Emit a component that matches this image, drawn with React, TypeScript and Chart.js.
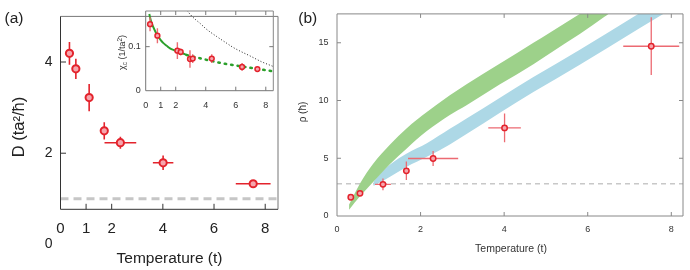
import React, { useEffect, useRef } from "react";
import { Chart, registerables } from "chart.js";

Chart.register(...registerables);

const FONT = "'Liberation Sans', Arial, Helvetica, sans-serif";

// ---------- Panel (a): diffusion constant D vs temperature ----------
const tempA = [0.35, 0.6, 1.12, 1.71, 2.34, 4.01, 7.53];
const diffA = [4.19, 3.85, 3.22, 2.49, 2.23, 1.79, 1.33];
const diffErrA = [0.25, 0.22, 0.3, 0.19, 0.13, 0.16, 0.04];
const tempErrA = [0, 0, 0, 0, 0.62, 0.4, 0.68];
const refTempA = [0, 8.5];
const refDiffA = [1, 1];
const xTicksA = [0, 1, 2, 4, 6, 8];
const yTicksA = [2, 4];
const extraYTickA = 0;

// ---------- Inset: chi_c vs temperature ----------
const tempIn = [0.29, 0.78, 2.11, 2.33, 2.95, 3.13, 4.4, 6.42, 7.44];
const chiIn = [0.151, 0.125, 0.091, 0.088, 0.072, 0.073, 0.073, 0.054, 0.049];
const chiErrIn = [0.016, 0.017, 0.019, 0.008, 0.02, 0.01, 0.01, 0.009, 0.006];
const fitSolidT = [0.24, 0.35, 0.5, 0.65, 0.84, 1.0, 1.18, 1.4, 1.62, 1.9, 2.18, 2.45, 2.73];
const fitSolidChi = [0.174, 0.158, 0.145, 0.134, 0.123, 0.115, 0.108, 0.102, 0.096, 0.092, 0.089, 0.085, 0.081];
const fitDotT = [2.73, 3.2, 3.62, 4.2, 4.73, 5.3, 5.84, 6.4, 6.95, 7.7, 8.5];
const fitDotChi = [0.081, 0.077, 0.0736, 0.069, 0.065, 0.061, 0.058, 0.055, 0.052, 0.048, 0.044];
const bareT = [2.75, 3.0, 3.3, 3.62, 4.0, 4.35, 4.73, 5.3, 5.84, 6.4, 6.95, 7.7, 8.5];
const bareChi = [0.182, 0.172, 0.162, 0.153, 0.141, 0.132, 0.123, 0.11, 0.098, 0.088, 0.079, 0.066, 0.055];
const xTicksIn = [0, 1, 2, 4, 6, 8];
const yTicksIn = [0, 0.1];

// ---------- Panel (b): rho vs temperature ----------
const tempB = [0.33, 0.55, 1.1, 1.66, 2.3, 4.01, 7.52];
const rhoB = [1.63, 1.96, 2.74, 3.91, 4.98, 7.63, 14.7];
const tempErrB = [0, 0, 0.19, 0, 0.6, 0.39, 0.67];
const rhoErrB = [0, 0, 0.5, 0.8, 0.65, 1.25, 2.5];
const greenT = [0.29, 0.55, 0.87, 1.27, 1.67, 2.15, 2.7, 3.1, 3.9, 4.7, 5.1, 5.81, 6.4, 6.7];
const greenUpper = [1.0, 2.82, 4.55, 6.2, 7.6, 9.0, 10.45, 11.4, 13.2, 15.0, 15.9, 17.5, 18.9, 19.6];
const greenLower = [0.55, 1.7, 2.96, 4.5, 5.85, 7.35, 8.75, 9.6, 11.4, 13.15, 14.1, 15.75, 17.25, 18.0];
const blueT = [0.87, 1.0, 1.27, 1.67, 2.15, 2.7, 3.1, 3.9, 4.7, 5.81, 7.21, 7.81, 8.4];
const blueUpper = [2.95, 3.55, 4.45, 5.41, 6.3, 7.55, 8.44, 10.25, 12.03, 14.4, 17.5, 18.8, 20.1];
const blueLower = [2.6, 2.85, 3.39, 4.26, 5.12, 6.2, 7.1, 8.95, 10.73, 13.1, 16.2, 17.5, 18.8];
const refTempB = [0, 8.28];
const refRhoB = [2.79, 2.79];
const xTicksB = [0, 2, 4, 6, 8];
const yTicksB = [0, 5, 10, 15];

const pts = (xs: number[], ys: number[]) => xs.map((x, i) => ({ x, y: ys[i] }));
const fixedTicks = (vals: number[]) => (s: any) => {
  s.ticks = vals.map((v) => ({ value: v }));
};

const errorBars = (
  index: number,
  xs: number[],
  ys: number[],
  xe: number[],
  ye: number[],
  color: string,
  width: number
) => ({
  id: "errorBars",
  beforeDatasetDraw(chart: any, args: any) {
    if (args.index !== index) return;
    const { ctx } = chart;
    const sx = chart.scales.x;
    const sy = chart.scales.y;
    ctx.save();
    ctx.strokeStyle = color;
    ctx.lineWidth = width;
    ctx.beginPath();
    xs.forEach((x, i) => {
      const px = sx.getPixelForValue(x);
      const py = sy.getPixelForValue(ys[i]);
      if (ye[i] > 0) {
        ctx.moveTo(px, sy.getPixelForValue(ys[i] - ye[i]));
        ctx.lineTo(px, sy.getPixelForValue(ys[i] + ye[i]));
      }
      if (xe[i] > 0) {
        ctx.moveTo(sx.getPixelForValue(x - xe[i]), py);
        ctx.lineTo(sx.getPixelForValue(x + xe[i]), py);
      }
    });
    ctx.stroke();
    ctx.restore();
  },
});

const framePlugin = (o: {
  xTicks: number[];
  yTicks: number[];
  mirror: boolean;
  len: number;
  color: string;
  axisColor: string;
}) => ({
  id: "frame",
  afterDatasetsDraw(chart: any) {
    const { ctx, chartArea: a } = chart;
    const sx = chart.scales.x;
    const sy = chart.scales.y;
    ctx.save();
    ctx.lineWidth = 1;
    ctx.strokeStyle = o.color;
    ctx.beginPath();
    ctx.moveTo(a.left, a.top);
    ctx.lineTo(a.right, a.top);
    ctx.lineTo(a.right, a.bottom);
    ctx.stroke();
    ctx.strokeStyle = o.axisColor;
    ctx.beginPath();
    ctx.moveTo(a.left, a.top);
    ctx.lineTo(a.left, a.bottom);
    ctx.lineTo(a.right, a.bottom);
    ctx.stroke();
    ctx.beginPath();
    o.xTicks.forEach((v) => {
      const p = sx.getPixelForValue(v);
      if (p <= a.left + 1 || p >= a.right - 1) return;
      ctx.moveTo(p, a.bottom);
      ctx.lineTo(p, a.bottom - o.len);
      if (o.mirror) {
        ctx.moveTo(p, a.top);
        ctx.lineTo(p, a.top + o.len);
      }
    });
    o.yTicks.forEach((v) => {
      const p = sy.getPixelForValue(v);
      if (p <= a.top + 1 || p >= a.bottom - 1) return;
      ctx.moveTo(a.left, p);
      ctx.lineTo(a.left + o.len, p);
      if (o.mirror) {
        ctx.moveTo(a.right, p);
        ctx.lineTo(a.right - o.len, p);
      }
    });
    ctx.stroke();
    ctx.restore();
  },
});

type Part = { t: string; size: number; dy?: number };
type Label = { parts: Part[]; x: number; y: number; rotate?: boolean; color?: string };

const textPlugin = (items: Label[]) => ({
  id: "texts",
  afterDraw(chart: any) {
    const ctx = chart.ctx;
    items.forEach((it) => {
      ctx.save();
      ctx.translate(it.x, it.y);
      if (it.rotate) ctx.rotate(-Math.PI / 2);
      ctx.fillStyle = it.color || "#222";
      ctx.textBaseline = "alphabetic";
      ctx.textAlign = "left";
      let total = 0;
      it.parts.forEach((p) => {
        ctx.font = `${p.size}px ${FONT}`;
        total += ctx.measureText(p.t).width;
      });
      const base = it.parts[0].size * 0.36;
      let cx = -total / 2;
      it.parts.forEach((p) => {
        ctx.font = `${p.size}px ${FONT}`;
        ctx.fillText(p.t, cx, base + (p.dy || 0));
        cx += ctx.measureText(p.t).width;
      });
      ctx.restore();
    });
  },
});

const extraTickPlugin = (value: number, size: number, pad: number) => ({
  id: "extraTick",
  afterDraw(chart: any) {
    const { ctx, chartArea: a } = chart;
    const sy = chart.scales.y;
    ctx.save();
    ctx.font = `${size}px ${FONT}`;
    ctx.fillStyle = "#222";
    ctx.textAlign = "right";
    ctx.textBaseline = "middle";
    ctx.fillText(String(value), a.left - pad, sy.getPixelForValue(value));
    ctx.restore();
  },
});

const baseOptions = (pad: any) => ({
  responsive: false,
  animation: false as const,
  devicePixelRatio: 1,
  layout: { padding: pad },
  plugins: { legend: { display: false }, tooltip: { enabled: false } },
});

const axis = (
  min: number,
  max: number,
  ticks: number[],
  size: number,
  pad: number,
  fit: (s: any) => void,
  color = "#222"
) => ({
  type: "linear" as const,
  min,
  max,
  grid: { display: false, drawTicks: false, tickLength: 0 },
  border: { display: false },
  afterBuildTicks: fixedTicks(ticks),
  afterFit: fit,
  ticks: {
    font: { family: FONT, size },
    color,
    padding: pad,
    maxRotation: 0,
    autoSkip: false,
    callback: (v: any) => String(v),
  },
});

const PINK = "#f6a5ad";
const RED = "#e3232c";

function configA(): any {
  return {
    type: "line",
    data: {
      datasets: [
        {
          data: pts(tempA, diffA),
          showLine: false,
          pointRadius: 3.6,
          pointBackgroundColor: PINK,
          pointBorderColor: RED,
          pointBorderWidth: 2,
        },
        {
          data: pts(refTempA, refDiffA),
          borderColor: "#c6c6c6",
          borderWidth: 3,
          borderDash: [8, 5],
          pointRadius: 0,
        },
      ],
    },
    options: {
      ...baseOptions({ top: 10, right: 67, left: 0, bottom: 0 }),
      scales: {
        x: axis(0, 8.5, xTicksA, 15, 10.5, (s: any) => (s.height = 60.7)),
        y: axis(0.77, 5, yTicksA, 14, 8, (s: any) => (s.width = 60.5)),
      },
    },
    plugins: [
      errorBars(0, tempA, diffA, tempErrA, diffErrA, RED, 1.6),
      framePlugin({ xTicks: xTicksA, yTicks: yTicksA, mirror: false, len: 5.5, color: "#777", axisColor: "#333" }),
      extraTickPlugin(extraYTickA, 14, 8),
      textPlugin([
        { parts: [{ t: "(a)", size: 15.5 }], x: 14, y: 17.5 },
        { parts: [{ t: "D (ta²/ħ)", size: 16.5 }], x: 18.5, y: 127, rotate: true },
        { parts: [{ t: "Temperature (t)", size: 15.5 }], x: 169.5, y: 257 },
      ]),
    ],
  };
}

function configInset(): any {
  return {
    type: "line",
    data: {
      datasets: [
        {
          data: pts(tempIn, chiIn),
          showLine: false,
          pointRadius: 2.4,
          pointBackgroundColor: PINK,
          pointBorderColor: RED,
          pointBorderWidth: 1.5,
        },
        {
          data: pts(fitSolidT, fitSolidChi),
          borderColor: "#2ca02c",
          borderWidth: 2,
          pointRadius: 0,
          cubicInterpolationMode: "monotone",
        },
        {
          data: pts(fitDotT, fitDotChi),
          borderColor: "#2ca02c",
          borderWidth: 2.5,
          borderDash: [1.5, 5],
          borderCapStyle: "round",
          pointRadius: 0,
          cubicInterpolationMode: "monotone",
        },
        {
          data: pts(bareT, bareChi),
          borderColor: "#222",
          borderWidth: 1,
          borderDash: [1, 2],
          pointRadius: 0,
          cubicInterpolationMode: "monotone",
        },
      ],
    },
    options: {
      ...baseOptions({ top: 11, right: 6.7, left: 0, bottom: 0 }),
      scales: {
        x: axis(0, 8.5, xTicksIn, 9, 9.5, (s: any) => (s.height = 24.3), "#333"),
        y: axis(0, 0.181, yTicksIn, 9, 5, (s: any) => (s.width = 45.7), "#333"),
      },
    },
    plugins: [
      errorBars(0, tempIn, chiIn, tempIn.map(() => 0), chiErrIn, "#ec6a72", 1.4),
      framePlugin({ xTicks: xTicksIn, yTicks: yTicksIn, mirror: true, len: 4, color: "#888", axisColor: "#777" }),
      textPlugin([
        {
          parts: [
            { t: "χ", size: 9 },
            { t: "c", size: 6.5, dy: 2 },
            { t: " (1/ta", size: 9 },
            { t: "2", size: 6.5, dy: -3.5 },
            { t: ")", size: 9 },
          ],
          x: 22,
          y: 52.5,
          rotate: true,
          color: "#333",
        },
      ]),
    ],
  };
}

function configB(): any {
  const band = (ts: number[], vs: number[], color: string, fill: any) => ({
    data: pts(ts, vs),
    borderWidth: 0,
    borderColor: color,
    backgroundColor: color,
    pointRadius: 0,
    fill,
    cubicInterpolationMode: "monotone",
  });
  return {
    type: "line",
    data: {
      datasets: [
        {
          data: pts(tempB, rhoB),
          showLine: false,
          pointRadius: 2.7,
          pointBackgroundColor: PINK,
          pointBorderColor: RED,
          pointBorderWidth: 1.5,
        },
        band(greenT, greenUpper, "#9dd18a", "+1"),
        band(greenT, greenLower, "#9dd18a", false),
        band(blueT, blueUpper, "#add8e6", "+1"),
        band(blueT, blueLower, "#add8e6", false),
        {
          data: pts(refTempB, refRhoB),
          borderColor: "#c8c8c8",
          borderWidth: 1.5,
          borderDash: [5, 4],
          pointRadius: 0,
        },
      ],
    },
    options: {
      ...baseOptions({ top: 13.3, right: 7, left: 0, bottom: 0 }),
      scales: {
        x: axis(0, 8.28, xTicksB, 9, 8.3, (s: any) => (s.height = 54), "#333"),
        y: axis(0, 17.5, yTicksB, 9, 8.5, (s: any) => (s.width = 47), "#333"),
      },
    },
    plugins: [
      errorBars(0, tempB, rhoB, tempErrB, rhoErrB, "#ec6a72", 1.3),
      framePlugin({ xTicks: xTicksB, yTicks: yTicksB, mirror: true, len: 4, color: "#888", axisColor: "#888" }),
      textPlugin([
        { parts: [{ t: "(b)", size: 15.5 }], x: 17.7, y: 17.5 },
        { parts: [{ t: "ρ (ħ)", size: 10 }], x: 12, y: 112, rotate: true, color: "#333" },
        { parts: [{ t: "Temperature (t)", size: 10.5 }], x: 221, y: 248, color: "#333" },
      ]),
    ],
  };
}

function ChartCanvas(props: { make: () => any; left: number; top: number; width: number; height: number }) {
  const ref = useRef<HTMLCanvasElement | null>(null);
  useEffect(() => {
    if (!ref.current) return;
    const chart = new Chart(ref.current, props.make());
    return () => chart.destroy();
  }, []);
  return (
    <canvas
      ref={ref}
      width={props.width}
      height={props.height}
      style={{
        position: "absolute",
        left: props.left,
        top: props.top,
        width: props.width,
        height: props.height,
      }}
    />
  );
}

export default function App() {
  return (
    <div
      style={{
        position: "absolute",
        left: 0,
        top: 0,
        width: 690,
        height: 270,
        background: "#ffffff",
        overflow: "hidden",
      }}
    >
      <ChartCanvas make={configA} left={0} top={0} width={345} height={270} />
      <ChartCanvas make={configB} left={290} top={0} width={400} height={270} />
      <ChartCanvas make={configInset} left={100} top={0} width={180} height={115} />
    </div>
  );
}
